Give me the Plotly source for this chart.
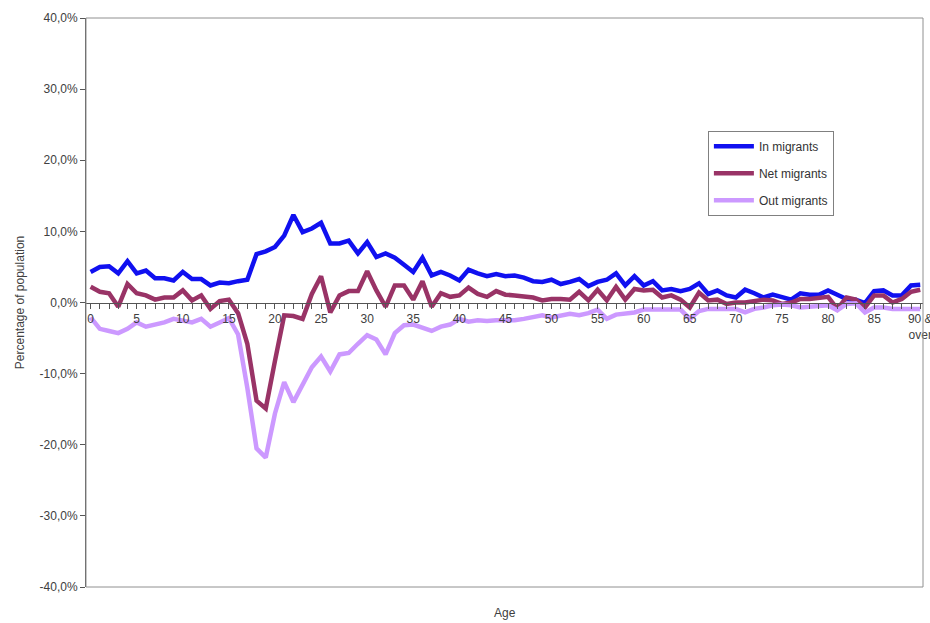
import plotly.graph_objects as go

ages = list(range(0, 91))

in_migrants = [4.3, 5.0, 5.1, 4.1, 5.8, 4.1, 4.5, 3.4, 3.4, 3.1,
               4.3, 3.3, 3.3, 2.4, 2.8, 2.7, 3.0, 3.2, 6.8, 7.2,
               7.8, 9.4, 12.3, 9.9, 10.4, 11.2, 8.3, 8.3, 8.7, 6.9,
               8.5, 6.4, 6.9, 6.3, 5.3, 4.3, 6.3, 3.8, 4.3, 3.8,
               3.1, 4.6, 4.1, 3.7, 4.0, 3.7, 3.8, 3.5, 3.0, 2.9,
               3.2, 2.6, 2.9, 3.3, 2.3, 2.9, 3.2, 4.1, 2.4, 3.7,
               2.4, 3.0, 1.7, 1.9, 1.6, 1.9, 2.7, 1.2, 1.7, 1.0,
               0.7, 1.8, 1.3, 0.7, 1.1, 0.7, 0.4, 1.3, 1.1, 1.1,
               1.7, 1.1, 0.5, 0.4, -0.1, 1.6, 1.7, 1.0, 1.0, 2.4,
               2.5]

net_migrants = [2.2, 1.5, 1.3, -0.6, 2.6, 1.3, 1.0, 0.4, 0.7, 0.7,
                1.7, 0.3, 1.0, -0.9, 0.2, 0.4, -1.5, -5.8, -13.8, -14.9,
                -8.2, -1.8, -1.9, -2.3, 1.2, 3.7, -1.4, 1.0, 1.6, 1.6,
                4.4, 1.7, -0.6, 2.4, 2.4, 0.4, 3.0, -0.6, 1.3, 0.8,
                1.0, 2.1, 1.2, 0.8, 1.6, 1.1, 1.0, 0.8, 0.7, 0.3,
                0.5, 0.5, 0.4, 1.5, 0.3, 1.8, 0.3, 2.2, 0.4, 1.9,
                1.7, 1.8, 0.7, 1.0, 0.4, -0.7, 1.4, 0.3, 0.4, -0.2,
                0.0, 0.0, 0.2, 0.4, 0.3, -0.2, 0.0, 0.5, 0.5, 0.7,
                0.8, -0.9, 0.7, 0.4, -0.7, 1.0, 1.0, 0.0, 0.5, 1.5,
                1.8]

out_migrants = [-2.1, -3.7, -4.0, -4.3, -3.7, -2.8, -3.4, -3.1, -2.8, -2.3,
                -2.6, -2.8, -2.3, -3.4, -2.8, -2.2, -4.5, -12.0, -20.5, -21.8,
                -15.6, -11.2, -14.0, -11.7, -9.1, -7.6, -9.7, -7.3, -7.1, -5.8,
                -4.6, -5.2, -7.3, -4.3, -3.2, -3.1, -3.5, -4.0, -3.4, -3.1,
                -2.3, -2.7, -2.5, -2.6, -2.5, -2.5, -2.5, -2.3, -2.1, -1.8,
                -2.1, -1.8, -1.6, -1.8, -1.5, -1.0, -2.3, -1.7, -1.6, -1.4,
                -1.0, -1.0, -1.0, -1.1, -1.0, -2.3, -1.2, -0.9, -0.9, -1.0,
                -0.9, -1.4, -0.9, -0.7, -0.4, -0.3, -0.4, -0.7, -0.6, -0.4,
                -0.4, -1.1, -0.2, -0.1, -1.4, -0.7, -0.7, -0.9, -0.9, -0.9,
                -0.9]

series_names = ["In migrants", "Net migrants", "Out migrants"]
series_colors = ["#1010F0", "#993366", "#CC99FF"]

x_tick_labels = [str(a) if a % 5 == 0 else "" for a in ages]
x_tick_labels[-1] = "90 &<br>over"

y_ticks = [-40, -30, -20, -10, 0, 10, 20, 30, 40]
y_tick_labels = [f"{v:.1f}".replace(".", ",") + "%" for v in y_ticks]

fig = go.Figure()
for name, vals, col in zip(series_names, [in_migrants, net_migrants, out_migrants], series_colors):
    fig.add_trace(go.Scatter(x=ages, y=vals, mode="lines", name=name,
                             legendgroup=name,
                             line=dict(color=col, width=4.5)))

font_family = "Liberation Sans, Arial, sans-serif"

fig.update_layout(
    width=930, height=623,
    margin=dict(l=86, r=7, t=18, b=36),
    paper_bgcolor="white", plot_bgcolor="white",
    font=dict(family=font_family, color="#404040", size=12),
    showlegend=True,
    legend=dict(x=0.743, y=0.802, xanchor="left", yanchor="top",
                bordercolor="#808080", borderwidth=1, bgcolor="white",
                font=dict(size=12, color="#333333"), tracegroupgap=8,
                itemwidth=40),
    xaxis=dict(range=[-0.5, 90.3], tickmode="array", tickvals=ages,
               ticktext=x_tick_labels, ticks="outside", ticklen=5,
               tickcolor="#555555", showline=True, linecolor="#555555",
               linewidth=1, showgrid=False, zeroline=False,
               anchor="free", position=0.5, tickangle=0,
               ticklabeloverflow="allow", automargin=False,
               tickfont=dict(size=12, color="#404040")),
    yaxis=dict(range=[-40, 40], tickmode="array", tickvals=y_ticks,
               ticktext=y_tick_labels, ticks="outside", ticklen=5,
               tickcolor="#555555", showline=True, linecolor="#555555",
               linewidth=1, showgrid=False, zeroline=False, automargin=False,
               title=dict(text="Percentage of population", standoff=12,
                          font=dict(size=12, color="#404040"))),
    shapes=[dict(type="rect", xref="paper", yref="paper", x0=0, x1=1, y0=0, y1=1,
                 line=dict(color="#909090", width=1))],
    annotations=[dict(text="Age", xref="paper", yref="paper", x=0.5, y=0,
                      yshift=-26, showarrow=False, yanchor="middle",
                      font=dict(size=12, color="#404040"))],
)

fig.write_html("out.html", config={"displayModeBar": False},
               post_script="document.body.style.margin='0';document.body.style.overflow='hidden';")
